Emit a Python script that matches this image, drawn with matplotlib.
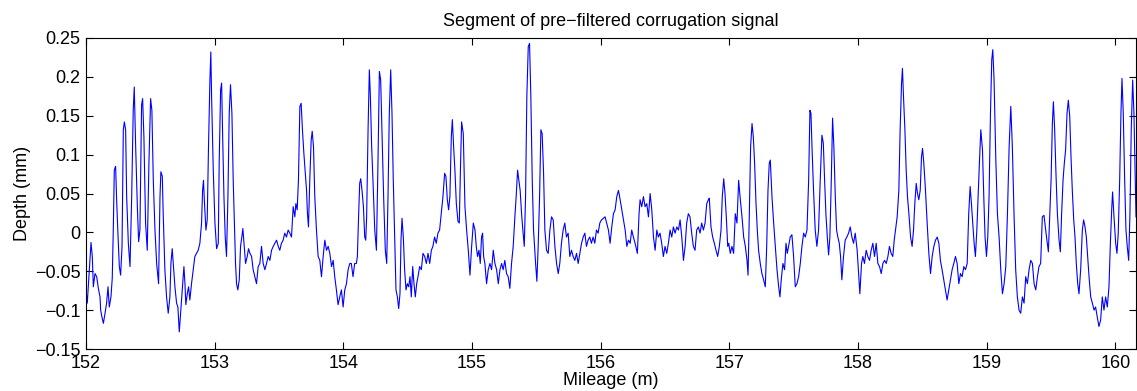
import matplotlib
matplotlib.use("Agg")
import matplotlib.pyplot as plt

# values (mileage in m, depth in mm)
mileage = [
    152.000, 152.010, 152.023, 152.039, 152.049, 152.057, 152.070, 152.083, 152.096, 152.109,
    152.114, 152.124, 152.135, 152.148, 152.160, 152.171, 152.181, 152.194, 152.204, 152.212,
    152.220, 152.230, 152.238, 152.248, 152.259, 152.269, 152.280, 152.290, 152.298, 152.308,
    152.316, 152.329, 152.342, 152.355, 152.367, 152.375, 152.386, 152.399, 152.409, 152.419,
    152.432, 152.440, 152.450, 152.463, 152.476, 152.489, 152.502, 152.512, 152.523, 152.536,
    152.549, 152.564, 152.575, 152.582, 152.593, 152.600, 152.613, 152.626, 152.639, 152.652,
    152.660, 152.670, 152.678, 152.691, 152.704, 152.714, 152.725, 152.735, 152.748, 152.761,
    152.769, 152.776, 152.787, 152.797, 152.807, 152.820, 152.833, 152.846, 152.859, 152.872,
    152.885, 152.898, 152.906, 152.913, 152.921, 152.932, 152.942, 152.952, 152.963, 152.970,
    152.976, 152.989, 153.002, 153.015, 153.028, 153.035, 153.046, 153.054, 153.061, 153.072,
    153.082, 153.092, 153.103, 153.113, 153.123, 153.134, 153.144, 153.155, 153.162, 153.170,
    153.180, 153.191, 153.201, 153.211, 153.219, 153.230, 153.240, 153.253, 153.263, 153.274,
    153.287, 153.299, 153.312, 153.325, 153.338, 153.351, 153.364, 153.377, 153.390, 153.403,
    153.416, 153.429, 153.442, 153.455, 153.468, 153.481, 153.494, 153.506, 153.519, 153.532,
    153.545, 153.558, 153.571, 153.584, 153.597, 153.610, 153.623, 153.631, 153.641, 153.651,
    153.662, 153.672, 153.682, 153.693, 153.703, 153.714, 153.721, 153.729, 153.739, 153.750,
    153.758, 153.768, 153.778, 153.791, 153.804, 153.817, 153.830, 153.843, 153.856, 153.869,
    153.882, 153.895, 153.908, 153.921, 153.933, 153.946, 153.959, 153.972, 153.985, 153.998,
    154.011, 154.024, 154.037, 154.050,
    154.062, 154.075, 154.088, 154.101, 154.109, 154.119, 154.127, 154.135, 154.145, 154.156,
    154.166, 154.174, 154.181, 154.192, 154.202, 154.210, 154.220, 154.231, 154.244, 154.257,
    154.269, 154.280, 154.290, 154.300, 154.313, 154.326, 154.337, 154.347, 154.357, 154.368,
    154.378, 154.388, 154.399, 154.409, 154.420, 154.430, 154.440, 154.448, 154.456, 154.466,
    154.476, 154.487, 154.497, 154.508, 154.518, 154.528, 154.539, 154.549, 154.559, 154.570,
    154.580, 154.593, 154.606, 154.619, 154.632, 154.645, 154.658, 154.671, 154.684, 154.696,
    154.709, 154.722, 154.735, 154.748, 154.761, 154.774, 154.787, 154.797, 154.808, 154.818,
    154.828, 154.839, 154.847, 154.857, 154.867, 154.878, 154.891, 154.901, 154.911, 154.919,
    154.932, 154.945, 154.958, 154.971, 154.984, 154.997, 155.010, 155.023, 155.033, 155.043,
    155.054, 155.064, 155.074, 155.082, 155.090, 155.100, 155.113, 155.126, 155.139, 155.152,
    155.165, 155.178, 155.191, 155.204, 155.217, 155.230, 155.242, 155.255, 155.268, 155.281,
    155.294, 155.307, 155.320, 155.333, 155.343, 155.354, 155.364, 155.374, 155.385, 155.395,
    155.406, 155.416, 155.426, 155.437, 155.447, 155.457, 155.468, 155.478, 155.494, 155.504,
    155.514, 155.525, 155.535, 155.545, 155.556, 155.566, 155.579, 155.592, 155.605, 155.618,
    155.631, 155.644, 155.657, 155.670, 155.682, 155.695, 155.708, 155.721, 155.734, 155.747,
    155.760, 155.773, 155.786, 155.799, 155.812, 155.825, 155.838, 155.851, 155.864, 155.877,
    155.889, 155.902, 155.915, 155.928, 155.941, 155.954, 155.967, 155.980, 155.993, 156.006,
    156.034, 156.060, 156.073, 156.086, 156.099, 156.112, 156.125, 156.138, 156.151, 156.164,
    156.177, 156.190, 156.203, 156.216, 156.229, 156.241, 156.254, 156.267, 156.285, 156.298,
    156.306, 156.319, 156.332, 156.345, 156.358, 156.371, 156.384, 156.397, 156.410, 156.423,
    156.436, 156.448, 156.461, 156.474, 156.487, 156.500, 156.513, 156.526, 156.539, 156.552,
    156.565, 156.578, 156.591, 156.604, 156.617, 156.630, 156.643, 156.656, 156.668, 156.681,
    156.694, 156.707, 156.720, 156.733, 156.746, 156.759, 156.772, 156.785, 156.798, 156.811,
    156.824, 156.837, 156.844, 156.857, 156.870, 156.883, 156.896, 156.909, 156.922, 156.935,
    156.945, 156.956, 156.966, 156.976, 156.987,
    156.995, 157.007, 157.020, 157.033, 157.046, 157.059, 157.072, 157.085, 157.098, 157.111,
    157.124, 157.137, 157.145, 157.155, 157.165, 157.176, 157.186, 157.196, 157.207, 157.217,
    157.227, 157.240, 157.253, 157.266, 157.279, 157.290, 157.300, 157.310, 157.318, 157.331,
    157.344, 157.357, 157.370, 157.383, 157.393, 157.403, 157.416, 157.429, 157.440, 157.450,
    157.460, 157.473, 157.486, 157.499, 157.512, 157.525, 157.538, 157.551, 157.564, 157.577,
    157.590, 157.603, 157.616, 157.626, 157.634, 157.642, 157.654, 157.667, 157.680, 157.693,
    157.706, 157.719, 157.730, 157.740, 157.750, 157.761, 157.771, 157.781, 157.792, 157.802,
    157.812, 157.823, 157.833, 157.843, 157.854, 157.864, 157.874, 157.887, 157.900, 157.913,
    157.926, 157.939, 157.952, 157.965, 157.978,
    157.993, 158.006, 158.014, 158.027, 158.037, 158.050, 158.063, 158.076, 158.089, 158.102,
    158.115, 158.128, 158.141, 158.154, 158.167, 158.180, 158.193, 158.206, 158.219, 158.232,
    158.244, 158.257, 158.270, 158.281, 158.291, 158.304, 158.317, 158.327, 158.338, 158.345,
    158.353, 158.364, 158.374, 158.384, 158.395, 158.408, 158.420, 158.431, 158.441, 158.452,
    158.462, 158.472, 158.483, 158.493, 158.501, 158.511, 158.524, 158.537, 158.550, 158.563,
    158.576, 158.589, 158.602, 158.615, 158.628, 158.640, 158.653, 158.666, 158.679, 158.692,
    158.705, 158.718, 158.731, 158.744, 158.757, 158.770, 158.783, 158.796, 158.809, 158.822,
    158.835, 158.848, 158.860, 158.871, 158.881, 158.891, 158.902, 158.912, 158.923, 158.933,
    158.943, 158.954,
    158.967, 158.977, 158.987, 158.998, 159.008, 159.018, 159.029, 159.039, 159.047, 159.057,
    159.070, 159.083, 159.096, 159.109, 159.122, 159.135, 159.148, 159.161, 159.174, 159.187,
    159.199, 159.212, 159.225, 159.238, 159.251, 159.264, 159.277, 159.290, 159.303, 159.316,
    159.329, 159.342, 159.355, 159.368, 159.381, 159.394, 159.406, 159.419, 159.432, 159.445,
    159.458, 159.471, 159.479, 159.489, 159.500, 159.510, 159.518, 159.528, 159.538, 159.549,
    159.562, 159.572, 159.582, 159.593, 159.603, 159.613, 159.624, 159.634, 159.645, 159.655,
    159.665, 159.676, 159.686, 159.696, 159.707, 159.717, 159.730, 159.743, 159.753, 159.764,
    159.774, 159.784, 159.795, 159.808, 159.821, 159.834, 159.846, 159.859, 159.872, 159.885,
    159.898, 159.911, 159.924, 159.937, 159.950, 159.960, 159.971, 159.978, 159.989, 160.002,
    160.012, 160.022, 160.033, 160.043, 160.051, 160.061, 160.072, 160.082, 160.092, 160.103,
    160.113, 160.123, 160.134, 160.144, 160.154, 160.160,
]

depth = [
    -0.074, -0.091, -0.057, -0.013, -0.031, -0.070, -0.053, -0.057, -0.072, -0.083,
    -0.100, -0.109, -0.117, -0.104, -0.091, -0.070, -0.096, -0.083, -0.059, 0.003,
    0.080, 0.085, 0.042, -0.001, -0.044, -0.055, -0.018, 0.132, 0.142, 0.132,
    0.046, -0.014, -0.044, 0.046, 0.157, 0.187, 0.110, 0.033, -0.012, 0.003,
    0.164, 0.172, 0.123, 0.012, -0.023, 0.089, 0.172, 0.157, 0.067, 0.003,
    -0.040, -0.066, 0.046, 0.078, 0.072, 0.024, -0.048, -0.083, -0.104, -0.083,
    -0.040, -0.021, -0.040, -0.070, -0.091, -0.096, -0.128, -0.104, -0.074, -0.044,
    -0.066, -0.093, -0.079, -0.070, -0.087, -0.066, -0.048, -0.031, -0.027, -0.023,
    -0.014, 0.012, 0.054, 0.067, 0.037, 0.003, 0.016, 0.110, 0.196, 0.232,
    0.175, 0.080, 0.012, -0.021, -0.014, 0.089, 0.183, 0.192, 0.132, 0.046,
    -0.006, -0.031, 0.046, 0.153, 0.190, 0.153, 0.067, 0.003, -0.040, -0.066,
    -0.074, -0.061, -0.018, -0.006, 0.005, -0.018, -0.040, -0.031, -0.021, -0.027,
    -0.031, -0.048, -0.057, -0.066, -0.044, -0.040, -0.018, -0.040, -0.048, -0.040,
    -0.031, -0.036, -0.023, -0.018, -0.014, -0.010, -0.018, -0.023, -0.014, -0.010,
    -0.001, -0.006, 0.003, -0.001, -0.006, 0.033, 0.020, 0.037, 0.029, 0.067,
    0.162, 0.166, 0.132, 0.102, 0.080, 0.054, 0.024, 0.007, 0.067, 0.119,
    0.130, 0.110, 0.046, 0.003, -0.031, -0.036, -0.057, -0.031, -0.010, -0.023,
    -0.018, -0.027, -0.044, -0.036, -0.057, -0.074, -0.093, -0.083, -0.074, -0.096,
    -0.074, -0.066, -0.048, -0.040,
    -0.040, -0.057, -0.040, -0.040, -0.031, 0.024, 0.063, 0.069, 0.054, 0.033,
    -0.006, -0.010, 0.020, 0.132, 0.209, 0.175, 0.110, 0.063, 0.003, -0.023,
    0.089, 0.207, 0.196, 0.132, 0.046, -0.023, -0.040, 0.046, 0.153, 0.209,
    0.153, 0.067, -0.010, -0.074, -0.083, -0.098, -0.079, -0.010, 0.018, -0.006,
    -0.048, -0.074, -0.066, -0.070, -0.057, -0.083, -0.044, -0.066, -0.083, -0.066,
    -0.057, -0.044, -0.048, -0.027, -0.031, -0.040, -0.027, -0.040, -0.023, -0.018,
    -0.006, -0.014, -0.001, 0.003, 0.024, 0.046, 0.076, 0.072, 0.042, 0.029,
    0.046, 0.123, 0.145, 0.110, 0.080, 0.037, 0.014, 0.012, 0.089, 0.142,
    0.127, 0.033, 0.003, -0.023, -0.055, -0.018, 0.012, 0.003, -0.018, -0.031,
    -0.023, -0.040, -0.006, -0.001, -0.031, -0.040, -0.066, -0.048, -0.040, -0.048,
    -0.023, -0.040, -0.048, -0.066, -0.048, -0.040, -0.048, -0.036, -0.053, -0.057,
    -0.072, -0.040, -0.018, 0.020, 0.046, 0.080, 0.067, 0.054, 0.024, 0.003,
    -0.018, 0.046, 0.175, 0.239, 0.243, 0.175, 0.067, 0.003, -0.040, -0.063,
    -0.018, 0.046, 0.132, 0.127, 0.076, 0.003, -0.023, -0.027, 0.003, 0.020,
    0.016, -0.018, -0.040, -0.053, -0.040, -0.014, 0.003, 0.012, -0.006, -0.001,
    -0.031, -0.023, -0.031, -0.036, -0.027, -0.040, -0.027, -0.014, -0.006, -0.001,
    -0.018, -0.010, -0.006, -0.014, -0.006, -0.014, 0.003, -0.001, 0.012, 0.016,
    0.020, 0.003, -0.014, 0.007, 0.024, 0.029, 0.046, 0.054, 0.042, 0.029,
    0.016, 0.003, -0.018, -0.010, -0.014, 0.003, -0.006, -0.014, -0.027, 0.024,
    0.042, 0.033, 0.046, 0.033, 0.037, 0.020, 0.050, 0.029, -0.006, -0.023,
    0.003, -0.006, -0.001, -0.014, -0.031, -0.018, -0.027, -0.014, 0.003, -0.006,
    0.007, -0.001, 0.007, 0.003, 0.016, -0.006, -0.036, -0.018, 0.012, 0.024,
    0.020, -0.001, -0.018, -0.023, 0.003, 0.007, -0.001, 0.012, 0.003, 0.012,
    0.037, 0.042, 0.044, 0.007, -0.006, -0.014, -0.023, -0.031, -0.018, 0.003,
    0.046, 0.069, 0.050, 0.020, -0.018,
    -0.014, -0.027, -0.018, -0.027, 0.024, 0.012, 0.067, 0.042, 0.020, -0.006,
    -0.018, -0.036, -0.055, 0.024, 0.110, 0.140, 0.123, 0.089, 0.037, 0.003,
    -0.023, -0.040, -0.053, -0.061, -0.070, -0.018, 0.054, 0.089, 0.093, 0.046,
    0.012, -0.018, -0.048, -0.070, -0.083, -0.061, -0.040, -0.048, -0.014, -0.027,
    -0.018, -0.006, -0.003, -0.031, -0.070, -0.066, -0.057, -0.040, -0.018, -0.001,
    -0.006, 0.003, 0.067, 0.157, 0.153, 0.110, 0.054, 0.003, -0.018, 0.003,
    0.067, 0.125, 0.115, 0.067, 0.024, -0.006, -0.029, -0.006, 0.067, 0.147,
    0.110, 0.046, 0.003, -0.006, -0.014, -0.031, -0.061, -0.031, -0.010, -0.006,
    -0.001, 0.007, -0.006, -0.014, -0.001,
    -0.023, -0.059, -0.079, -0.040, -0.031, -0.040, -0.023, -0.031, -0.036, -0.023,
    -0.014, -0.031, -0.014, -0.040, -0.044, -0.053, -0.040, -0.036, -0.040, -0.031,
    -0.018, -0.027, -0.031, -0.010, 0.003, 0.020, 0.054, 0.132, 0.192, 0.211,
    0.175, 0.132, 0.080, 0.046, 0.024, -0.006, -0.018, 0.003, 0.037, 0.063,
    0.050, 0.042, 0.054, 0.097, 0.108, 0.089, 0.054, 0.012, -0.027, -0.053,
    -0.031, -0.018, -0.010, -0.006, -0.014, -0.036, -0.048, -0.061, -0.074, -0.087,
    -0.074, -0.061, -0.048, -0.040, -0.031, -0.040, -0.066, -0.053, -0.057, -0.044,
    -0.048, -0.040, 0.024, 0.059, 0.037, 0.012, -0.014, -0.031, 0.003, 0.046,
    0.089, 0.132,
    0.106, 0.046, -0.006, -0.031, -0.006, 0.046, 0.153, 0.222, 0.235, 0.196,
    0.097, 0.024, -0.006, -0.048, -0.079, -0.066, -0.044, 0.024, 0.110, 0.162,
    0.110, 0.024, -0.048, -0.083, -0.100, -0.104, -0.083, -0.091, -0.057, -0.066,
    -0.048, -0.036, -0.040, -0.066, -0.074, -0.057, -0.044, -0.040, 0.020, 0.022,
    0.003, -0.014, -0.025, 0.020, 0.067, 0.140, 0.168, 0.132, 0.076, 0.024,
    -0.010, -0.025, 0.024, 0.067, 0.089, 0.106, 0.153, 0.170, 0.149, 0.097,
    0.054, 0.016, -0.006, -0.040, -0.066, -0.079, -0.048, 0.003, 0.016, 0.007,
    -0.006, -0.031, -0.057, -0.083, -0.091, -0.100, -0.096, -0.109, -0.121, -0.113,
    -0.083, -0.100, -0.083, -0.096, -0.070, -0.018, 0.029, 0.052, 0.020, -0.014,
    -0.027, -0.001, 0.067, 0.153, 0.198, 0.153, 0.067, 0.003, -0.018, -0.036,
    0.024, 0.132, 0.196, 0.153, 0.067, 0.020,
]

x_ticks = [152, 153, 154, 155, 156, 157, 158, 159, 160]
y_ticks = [-0.15, -0.1, -0.05, 0, 0.05, 0.1, 0.15, 0.2, 0.25]
y_tick_labels = ["\u22120.15", "\u22120.1", "\u22120.05", "0", "0.05", "0.1", "0.15", "0.2", "0.25"]

plt.rcParams['font.family'] = ['Liberation Sans', 'DejaVu Sans']

fig = plt.figure(figsize=(11.37, 3.91), dpi=100)
ax = fig.add_axes([86 / 1137, 42 / 391, 1050 / 1137, 311 / 391])

ax.plot(mileage, depth, color=(0, 0, 1), linewidth=0.8)

ax.set_xlim(152, 160.16)
ax.set_ylim(-0.15, 0.25)
ax.set_xticks(x_ticks)
ax.set_xticklabels([str(t) for t in x_ticks])
ax.set_yticks(y_ticks)
ax.set_yticklabels(y_tick_labels)

ax.tick_params(direction='in', length=5, width=0.8, top=True, right=True,
               labelsize=13, pad=4, colors='black')
for sp in ax.spines.values():
    sp.set_linewidth(0.8)

ax.set_title("Segment of pre\u2212filtered corrugation signal", fontsize=13, pad=9)
ax.set_xlabel("Mileage (m)", fontsize=13, labelpad=0)
ax.set_ylabel("Depth (mm)", fontsize=13, labelpad=3)

fig.savefig("out.png", dpi=100)
